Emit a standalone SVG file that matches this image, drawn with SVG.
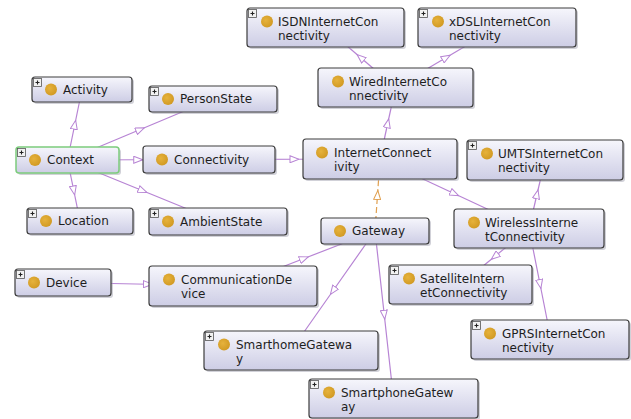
<svg xmlns="http://www.w3.org/2000/svg" xmlns:xlink="http://www.w3.org/1999/xlink" width="631" height="419" viewBox="0 0 631 419">
  <defs>
    <linearGradient id="nodeFill" x1="0" y1="0" x2="0" y2="1">
      <stop offset="0" stop-color="#f6f6fc"/>
      <stop offset="1" stop-color="#cdcde5"/>
    </linearGradient>
    <radialGradient id="dotFill" cx="0.4" cy="0.4" r="0.7">
      <stop offset="0" stop-color="#e6b23c"/>
      <stop offset="1" stop-color="#cf9720"/>
    </radialGradient>
    <marker id="tri" viewBox="0 0 10 8" refX="5" refY="4" markerWidth="10" markerHeight="8" markerUnits="userSpaceOnUse" orient="auto">
      <path d="M0.5,0.5 L9.5,4 L0.5,7.5 Z" fill="#ffffff" stroke="#b784d4" stroke-width="1"/>
    </marker>
    <marker id="triOrange" viewBox="0 0 10 8" refX="5" refY="4" markerWidth="10" markerHeight="8" markerUnits="userSpaceOnUse" orient="auto">
      <path d="M0.5,0.5 L9.5,4 L0.5,7.5 Z" fill="#ffffff" stroke="#e0a050" stroke-width="1"/>
    </marker>
    <!-- expand toggle shown on collapsed classes -->
    <g id="expand">
      <rect x="0.5" y="0.5" width="8" height="8" fill="#f2f2f2" stroke="#555555" stroke-width="0.8"/>
      <path d="M2.5,4.5 H6.5 M4.5,2.5 V6.5" stroke="#222222" stroke-width="1.1"/>
    </g>
  </defs>
  <style>
    .box { fill: url(#nodeFill); stroke: #3c3c3c; stroke-width: 1.2; }
    .shadow { fill: #9a9aa8; opacity: 0.45; }
    .focus { stroke: #7ccc7c; stroke-width: 1.5; }
    .dot { fill: url(#dotFill); }
    .label { font-family: "DejaVu Sans", "Liberation Sans", sans-serif; font-size: 12px; fill: #1e1e1e; }
    .edge { fill: none; stroke: #b784d4; stroke-width: 1.2; marker-mid: url(#tri); }
    .edge-dashed { fill: none; stroke: #e0a050; stroke-width: 1.2; stroke-dasharray: 6 3; marker-mid: url(#triOrange); }
  </style>

  <rect width="631" height="419" fill="#ffffff"/>

  <!-- connectors: centre to centre, arrowhead at midpoint pointing at the subclass -->
  <g id="connectors">
    <path class="edge" d="M67.5,160 L74.75,124.75 L82,89.5"/>
    <path class="edge" d="M67.5,160 L140.25,129.5 L213,99"/>
    <path class="edge" d="M67.5,160 L138.25,159.75 L209,159.5"/>
    <path class="edge" d="M67.5,160 L73.75,190.5 L80,221"/>
    <path class="edge" d="M67.5,160 L142.75,190.75 L218,221.5"/>
    <path class="edge" d="M209,159.5 L294.5,159.25 L380,159"/>
    <path class="edge" d="M380,159 L387.75,123.25 L395.5,87.5"/>
    <path class="edge" d="M395.5,87.5 L360.5,57.5 L325.5,27.5"/>
    <path class="edge" d="M395.5,87.5 L446.25,57.5 L497,27.5"/>
    <path class="edge" d="M380,159 L454.5,193.75 L529,228.5"/>
    <path class="edge" d="M529,228.5 L537,194.25 L545,160"/>
    <path class="edge" d="M529,228.5 L494.75,256.5 L460.5,284.5"/>
    <path class="edge" d="M529,228.5 L540,284 L551,339.5"/>
    <path class="edge" d="M63,282.5 L148,284.25 L233,286"/>
    <path class="edge" d="M233,286 L304,258.5 L375,231"/>
    <path class="edge" d="M375,231 L333,290.75 L291,350.5"/>
    <path class="edge" d="M375,231 L384.25,314.75 L393.5,398.5"/>
    <path class="edge-dashed" d="M375,231 L377.5,195 L380,159"/>
  </g>

  <!-- class nodes -->
  <g id="ISDNInternetConnectivity">
    <rect class="shadow" x="249" y="10" width="157" height="39" rx="3"/>
    <rect class="box" x="247" y="8" width="157" height="39" rx="3"/>
    <use xlink:href="#expand" x="248" y="9"/>
    <circle class="dot" cx="267" cy="21.5" r="6"/>
    <text class="label" x="278" y="25.5">ISDNInternetCon</text>
    <text class="label" x="278" y="39.5">nectivity</text>
  </g>
  <g id="xDSLInternetConnectivity">
    <rect class="shadow" x="420" y="10" width="158" height="39" rx="3"/>
    <rect class="box" x="418" y="8" width="158" height="39" rx="3"/>
    <use xlink:href="#expand" x="419" y="9"/>
    <circle class="dot" cx="438" cy="21.5" r="6"/>
    <text class="label" x="449" y="25.5">xDSLInternetCon</text>
    <text class="label" x="449" y="39.5">nectivity</text>
  </g>
  <g id="WiredInternetConnectivity">
    <rect class="shadow" x="320" y="70" width="155" height="39" rx="3"/>
    <rect class="box" x="318" y="68" width="155" height="39" rx="3"/>
    <circle class="dot" cx="338" cy="81.5" r="6"/>
    <text class="label" x="349" y="85.5">WiredInternetCo</text>
    <text class="label" x="349" y="99.5">nnectivity</text>
  </g>
  <g id="Activity">
    <rect class="shadow" x="34" y="79" width="100" height="25" rx="3"/>
    <rect class="box" x="32" y="77" width="100" height="25" rx="3"/>
    <use xlink:href="#expand" x="33" y="78"/>
    <circle class="dot" cx="51" cy="89.5" r="6"/>
    <text class="label" x="63" y="93.5">Activity</text>
  </g>
  <g id="PersonState">
    <rect class="shadow" x="151" y="88" width="128" height="26" rx="3"/>
    <rect class="box" x="149" y="86" width="128" height="26" rx="3"/>
    <use xlink:href="#expand" x="150" y="87"/>
    <circle class="dot" cx="168" cy="99" r="6"/>
    <text class="label" x="180" y="103">PersonState</text>
  </g>
  <g id="Context">
    <rect class="shadow" x="18" y="149" width="103" height="26" rx="3"/>
    <rect class="box focus" x="16" y="147" width="103" height="26" rx="3"/>
    <use xlink:href="#expand" x="17" y="148"/>
    <circle class="dot" cx="35" cy="160" r="6"/>
    <text class="label" x="47" y="164">Context</text>
  </g>
  <g id="Connectivity">
    <rect class="shadow" x="145" y="148" width="132" height="27" rx="3"/>
    <rect class="box" x="143" y="146" width="132" height="27" rx="3"/>
    <circle class="dot" cx="162" cy="159.5" r="6"/>
    <text class="label" x="174" y="163.5">Connectivity</text>
  </g>
  <g id="InternetConnectivity">
    <rect class="shadow" x="305" y="141" width="154" height="40" rx="3"/>
    <rect class="box" x="303" y="139" width="154" height="40" rx="3"/>
    <circle class="dot" cx="322" cy="152.5" r="6"/>
    <text class="label" x="334" y="156.5">InternetConnect</text>
    <text class="label" x="334" y="170.5">ivity</text>
  </g>
  <g id="UMTSInternetConnectivity">
    <rect class="shadow" x="469" y="142" width="156" height="40" rx="3"/>
    <rect class="box" x="467" y="140" width="156" height="40" rx="3"/>
    <use xlink:href="#expand" x="468" y="141"/>
    <circle class="dot" cx="487" cy="153.5" r="6"/>
    <text class="label" x="498" y="157.5">UMTSInternetCon</text>
    <text class="label" x="498" y="171.5">nectivity</text>
  </g>
  <g id="Location">
    <rect class="shadow" x="29" y="210" width="106" height="26" rx="3"/>
    <rect class="box" x="27" y="208" width="106" height="26" rx="3"/>
    <use xlink:href="#expand" x="28" y="209"/>
    <circle class="dot" cx="46" cy="221" r="6"/>
    <text class="label" x="58" y="225">Location</text>
  </g>
  <g id="AmbientState">
    <rect class="shadow" x="151" y="210" width="138" height="27" rx="3"/>
    <rect class="box" x="149" y="208" width="138" height="27" rx="3"/>
    <use xlink:href="#expand" x="150" y="209"/>
    <circle class="dot" cx="168" cy="221.5" r="6"/>
    <text class="label" x="180" y="225.5">AmbientState</text>
  </g>
  <g id="Gateway">
    <rect class="shadow" x="323" y="220" width="108" height="26" rx="3"/>
    <rect class="box" x="321" y="218" width="108" height="26" rx="3"/>
    <circle class="dot" cx="340" cy="231" r="6"/>
    <text class="label" x="352" y="235">Gateway</text>
  </g>
  <g id="WirelessInternetConnectivity">
    <rect class="shadow" x="456" y="211" width="150" height="39" rx="3"/>
    <rect class="box" x="454" y="209" width="150" height="39" rx="3"/>
    <circle class="dot" cx="474" cy="222.5" r="6"/>
    <text class="label" x="485" y="226.5">WirelessInterne</text>
    <text class="label" x="485" y="240.5">tConnectivity</text>
  </g>
  <g id="Device">
    <rect class="shadow" x="17" y="271" width="96" height="27" rx="3"/>
    <rect class="box" x="15" y="269" width="96" height="27" rx="3"/>
    <use xlink:href="#expand" x="16" y="270"/>
    <circle class="dot" cx="34" cy="282.5" r="6"/>
    <text class="label" x="46" y="286.5">Device</text>
  </g>
  <g id="CommunicationDevice">
    <rect class="shadow" x="151" y="268" width="168" height="40" rx="3"/>
    <rect class="box" x="149" y="266" width="168" height="40" rx="3"/>
    <circle class="dot" cx="169" cy="279.5" r="6"/>
    <text class="label" x="181" y="283.5">CommunicationDe</text>
    <text class="label" x="181" y="297.5">vice</text>
  </g>
  <g id="SatelliteInternetConnectivity">
    <rect class="shadow" x="391" y="267" width="143" height="39" rx="3"/>
    <rect class="box" x="389" y="265" width="143" height="39" rx="3"/>
    <use xlink:href="#expand" x="390" y="266"/>
    <circle class="dot" cx="409" cy="278.5" r="6"/>
    <text class="label" x="420" y="282.5">SatelliteIntern</text>
    <text class="label" x="420" y="296.5">etConnectivity</text>
  </g>
  <g id="SmarthomeGateway">
    <rect class="shadow" x="206" y="333" width="174" height="39" rx="3"/>
    <rect class="box" x="204" y="331" width="174" height="39" rx="3"/>
    <use xlink:href="#expand" x="205" y="332"/>
    <circle class="dot" cx="224" cy="344.5" r="6"/>
    <text class="label" x="236" y="348.5">SmarthomeGatewa</text>
    <text class="label" x="236" y="362.5">y</text>
  </g>
  <g id="SmartphoneGateway">
    <rect class="shadow" x="311" y="381" width="169" height="39" rx="3"/>
    <rect class="box" x="309" y="379" width="169" height="39" rx="3"/>
    <use xlink:href="#expand" x="310" y="380"/>
    <circle class="dot" cx="329" cy="392.5" r="6"/>
    <text class="label" x="341" y="396.5">SmartphoneGatew</text>
    <text class="label" x="341" y="410.5">ay</text>
  </g>
  <g id="GPRSInternetConnectivity">
    <rect class="shadow" x="473" y="322" width="158" height="39" rx="3"/>
    <rect class="box" x="471" y="320" width="158" height="39" rx="3"/>
    <use xlink:href="#expand" x="472" y="321"/>
    <circle class="dot" cx="490" cy="333.5" r="6"/>
    <text class="label" x="502" y="337.5">GPRSInternetCon</text>
    <text class="label" x="502" y="351.5">nectivity</text>
  </g>
</svg>
